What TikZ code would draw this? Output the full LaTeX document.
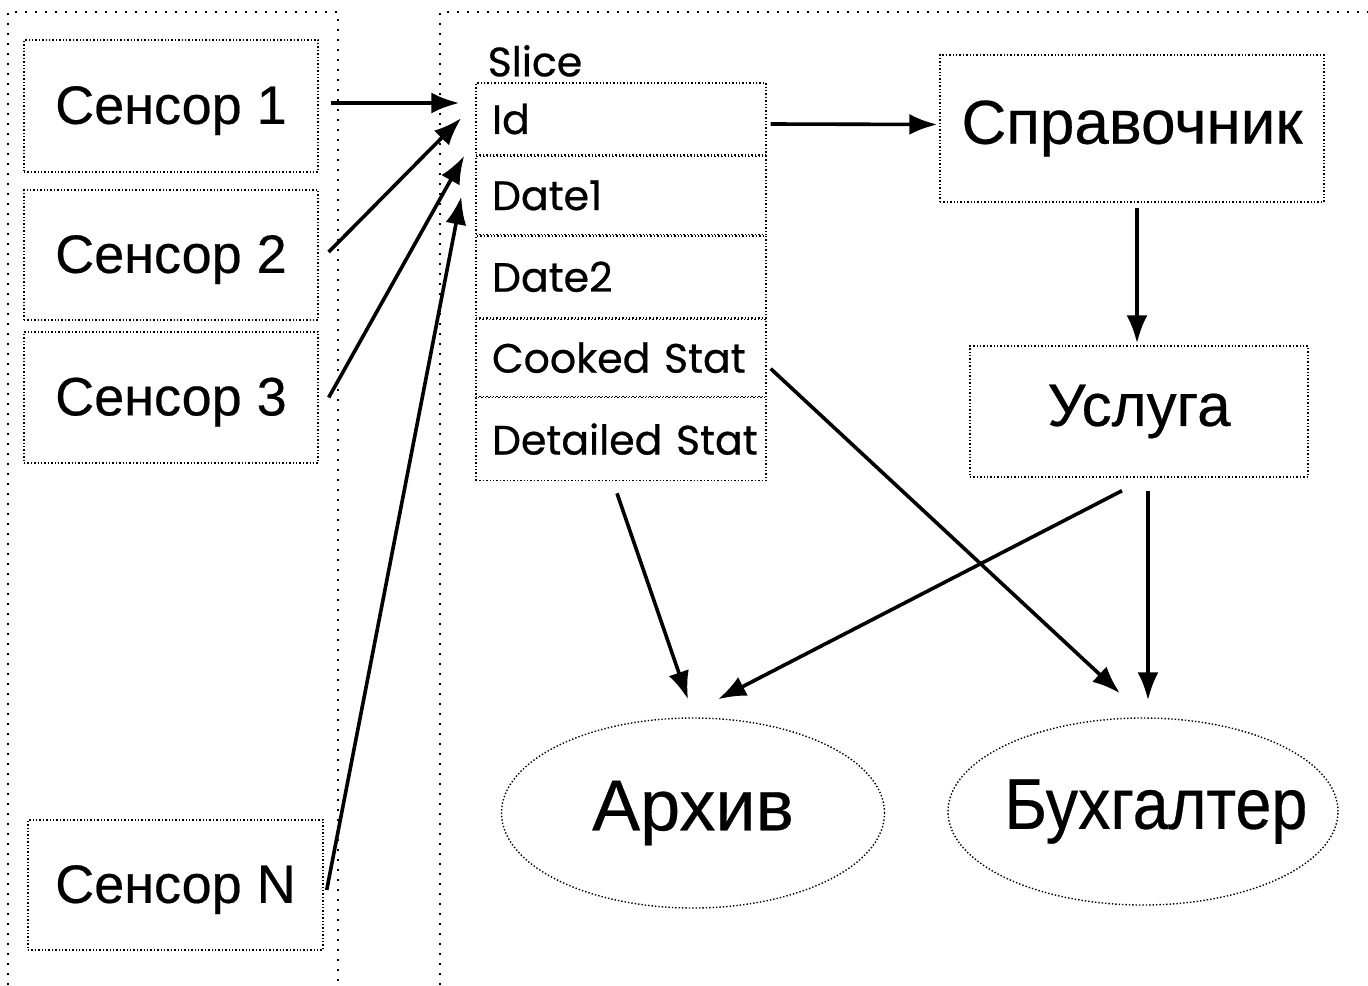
\documentclass[tikz,border=0pt]{standalone}
\usepackage{fontspec}
\setmainfont{Liberation Sans}[FakeBold=0.4]
\newfontfamily\slicefont{Poppins}[FakeBold=0.6]
\newfontfamily\narrowfont{Liberation Sans}[FakeStretch=0.9,FakeBold=0.4]
\usetikzlibrary{shapes.geometric,arrows.meta,positioning}

\begin{document}
\begin{tikzpicture}[
  x=0.5pt, y=-0.5pt,
  node distance=0pt,
  box/.style={draw, densely dotted, line width=0.7pt, inner sep=0pt},
  sensor/.style={box, minimum width=147pt, minimum height=66pt, text depth=1pt, font=\fontsize{27}{30}\selectfont},
  field/.style={box, minimum width=145pt, text width=140pt, inner xsep=2.5pt, align=left,
    execute at begin node=\hspace*{5.5pt}, font=\slicefont\fontsize{20.5}{24}\selectfont},
  store/.style={ellipse, draw, densely dotted, line width=0.7pt, inner sep=0pt, font=\fontsize{36}{40}\selectfont},
  frame/.style={dash pattern=on 1pt off 4pt, line width=0.8pt},
  arr/.style={-{Latex[length=14pt,width=10.5pt]}, line width=1.8pt}
]
  \useasboundingbox (0,0) rectangle (1368,985);

  % outer frames
  \draw[frame] (8,985) -- (8,12) -- (338,12) -- (338,985);
  \draw[frame] (440,985) -- (440,12) -- (1368,12);

  % sensors
  \node[sensor] (s1) at (171,106) {Сенсор 1};
  \node[sensor, minimum height=65pt] (s2) at (171,255) {Сенсор 2};
  \node[sensor, minimum height=65.5pt] (s3) at (171,397.5) {Сенсор 3};
  \node[sensor, minimum width=147.5pt, minimum height=65pt] (sN) at (175.5,885) {Сенсор N};

  % slice record
  \node[field, minimum height=36pt] (id) at (621,119) {Id};
  \node[field, minimum height=39pt, below=of id] (date1) {Date1};
  \node[field, minimum height=41pt, below=of date1] (date2) {Date2};
  \node[field, minimum height=38.5pt, below=of date2] (cooked) {Cooked Stat};
  \node[field, minimum height=41.5pt, below=of cooked] (detailed) {Detailed Stat};
  \node[anchor=base west, inner sep=0pt, font=\slicefont\fontsize{20.5}{24}\selectfont] (slice) at ([shift={(12,-6)}]id.north west) {Slice};

  % reference and service
  \node[box, minimum width=192pt, minimum height=73.5pt, font=\fontsize{31}{34}\selectfont] (ref) at (1132,128.5) {Справочник};
  \node[box, minimum width=169pt, minimum height=65.5pt, font=\fontsize{30}{33}\selectfont] (usl) at (1139,411.5) {Услуга};

  % stores
  \node[store, minimum width=191.5pt, minimum height=95pt] (arch) at (693,813) {\makebox[0pt]{Архив}};
  \node[store, minimum width=195pt, minimum height=93.5pt] (buh) at (1143,811.5) {\makebox[0pt]{\hspace*{13pt}\narrowfont Бухгалтер}};

  % connectors
  \draw[arr] ([shift={(12,-3)}]s1.east) -- ([shift={(-16,-16)}]id.west);
  \draw[arr] ([shift={(10,-3)}]s2.east) -- ([shift={(-14,-1)}]id.west);
  \draw[arr] ([shift={(10,0)}]s3.east) -- ([shift={(-11,0)}]id.south west);
  \draw[arr] ([shift={(3,5)}]sN.east) -- ([shift={(-14,1)}]date1.west);
  \draw[arr] ([shift={(4,5)}]id.east) -- ([shift={(-2,-4)}]ref.west);
  \draw[arr] ([shift={(5,5)}]ref.south) -- ([shift={(-2,-2)}]usl.north);
  \draw[arr] ([shift={(4,11)}]cooked.east) -- ([shift={(-23,-24)}]buh.north);
  \draw[arr] ([shift={(-4,12)}]detailed.south) -- ([shift={(-5,-18)}]arch.north);
  \draw[arr] ([shift={(-17,13)}]usl.south) -- ([shift={(25,-18)}]arch.north);
  \draw[arr] ([shift={(9,13)}]usl.south) -- ([shift={(5,-17)}]buh.north);
\end{tikzpicture}
\end{document}
